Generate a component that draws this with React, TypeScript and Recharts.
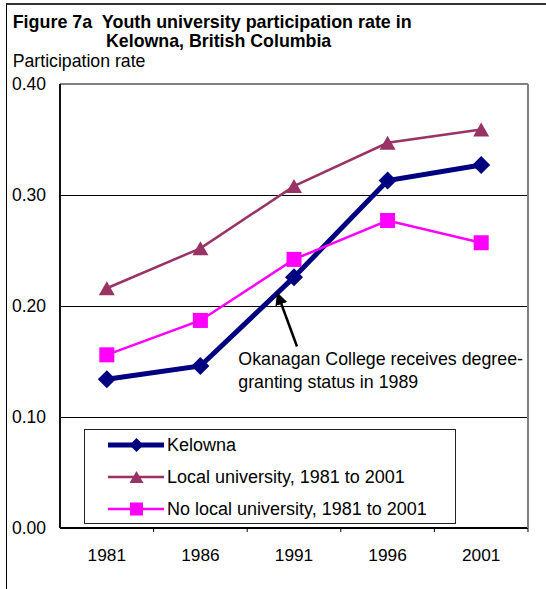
import React from 'react';
import { LineChart, Line, XAxis, YAxis, CartesianGrid, ReferenceLine, Legend } from 'recharts';

const years = ['1981', '1986', '1991', '1996', '2001'];
const kelowna = [0.134, 0.146, 0.226, 0.313, 0.327];
const localUniversity = [0.216, 0.252, 0.308, 0.347, 0.359];
const noLocalUniversity = [0.156, 0.187, 0.242, 0.277, 0.257];
const yTicks = [0, 0.1, 0.2, 0.3, 0.4];
const seriesNames = ['Kelowna', 'Local university, 1981 to 2001', 'No local university, 1981 to 2001'];
const titleLines = ['Figure 7a  Youth university participation rate in', 'Kelowna, British Columbia'];
const yAxisTitle = 'Participation rate';
const noteLines = ['Okanagan College receives degree-', 'granting status in 1989'];

const data = years.map((year, i) => ({
  year,
  kelowna: kelowna[i],
  local: localUniversity[i],
  noLocal: noLocalUniversity[i],
}));

const FONT = '"Liberation Sans", Arial, Helvetica, sans-serif';
const NAVY = '#000080';
const PLUM = '#993366';
const MAGENTA = '#FF00FF';
const HALF_BAND = 46.8;

const diamondPath = (cx: number, cy: number, r: number) =>
  `M${cx},${cy - r}L${cx + r},${cy}L${cx},${cy + r}L${cx - r},${cy}Z`;
const trianglePath = (cx: number, cy: number, w: number, h: number) =>
  `M${cx},${cy - h / 2}L${cx + w / 2},${cy + h / 2}L${cx - w / 2},${cy + h / 2}Z`;

const DiamondDot = (props: any) => {
  const { cx, cy, index } = props;
  if (cx == null || cy == null) return <g key={`kd-${index}`} />;
  return <path key={`kd-${index}`} d={diamondPath(cx, cy, 9)} fill={NAVY} />;
};
const TriangleDot = (props: any) => {
  const { cx, cy, index } = props;
  if (cx == null || cy == null) return <g key={`lt-${index}`} />;
  return <path key={`lt-${index}`} d={trianglePath(cx, cy, 16, 14)} fill={PLUM} />;
};
const SquareDot = (props: any) => {
  const { cx, cy, index } = props;
  if (cx == null || cy == null) return <g key={`ns-${index}`} />;
  return <rect key={`ns-${index}`} x={cx - 7.5} y={cy - 7.5} width={15} height={15} fill={MAGENTA} />;
};

const XTick = (props: any) => {
  const { x, y, payload, index, visibleTicksCount } = props;
  const isLast = index === (visibleTicksCount ?? years.length) - 1;
  return (
    <g>
      {index > 0 && <line x1={x - HALF_BAND} x2={x - HALF_BAND} y1={y} y2={y + 4} stroke="#000" strokeWidth={1} />}
      {isLast && <line x1={x + HALF_BAND} x2={x + HALF_BAND} y1={y} y2={y + 4} stroke="#000" strokeWidth={1} />}
      <text x={x} y={y + 27} dy="0.35em" textAnchor="middle" fontFamily={FONT} fontSize={17.3} fill="#000">
        {payload.value}
      </text>
    </g>
  );
};

const YTick = (props: any) => {
  const { x, y, payload } = props;
  return (
    <text x={x - 14} y={y} dy="0.35em" textAnchor="end" fontFamily={FONT} fontSize={17.5} fill="#000">
      {Number(payload.value).toFixed(2)}
    </text>
  );
};

const legendIcons = [
  (
    <svg width={56} height={20} key="k">
      <line x1={0} x2={56} y1={10} y2={10} stroke={NAVY} strokeWidth={5} strokeLinecap="round" />
      <path d={diamondPath(28.5, 10, 7)} fill={NAVY} />
    </svg>
  ),
  (
    <svg width={56} height={20} key="l">
      <line x1={0} x2={56} y1={10} y2={10} stroke={PLUM} strokeWidth={2.5} />
      <path d={trianglePath(28.5, 10, 14, 12)} fill={PLUM} />
    </svg>
  ),
  (
    <svg width={56} height={20} key="n">
      <line x1={0} x2={56} y1={10} y2={10} stroke={MAGENTA} strokeWidth={2.5} />
      <rect x={22} y={3.5} width={13} height={13} fill={MAGENTA} />
    </svg>
  ),
];

const renderLegend = () => (
  <div
    style={{
      width: 372,
      height: 95,
      boxSizing: 'border-box',
      border: '1px solid #222',
      background: '#fff',
      paddingTop: 0,
    }}
  >
    {seriesNames.map((name, i) => (
      <div
        key={name}
        style={{ display: 'flex', alignItems: 'center', height: 32, marginTop: i === 0 ? -1 : 0, paddingLeft: 23 }}
      >
        {legendIcons[i]}
        <span style={{ fontFamily: FONT, fontSize: 18, color: '#000', marginLeft: 3, whiteSpace: 'nowrap' }}>{name}</span>
      </div>
    ))}
  </div>
);

export default function App() {
  return (
    <div style={{ position: 'absolute', left: 0, top: 0, width: 546, height: 589, overflow: 'hidden', background: '#fff' }}>
      <div
        style={{
          position: 'absolute',
          left: 6,
          top: 3,
          width: 700,
          height: 800,
          borderLeft: '1px solid #000',
          borderTop: '2px solid #333',
        }}
      />
      <div style={{ position: 'absolute', left: 0, top: 0 }}>
        <LineChart width={546} height={589} data={data} margin={{ top: 84, right: 10, bottom: 31, left: 10 }}>
          <CartesianGrid vertical={false} stroke="#000" strokeWidth={1} shapeRendering="crispEdges" />
          <XAxis
            dataKey="year"
            height={30}
            padding={{ left: HALF_BAND, right: HALF_BAND }}
            axisLine={{ stroke: '#000', strokeWidth: 2 }}
            tickLine={false}
            tickSize={0}
            tickMargin={0}
            tick={<XTick />}
            interval={0}
          />
          <YAxis
            width={50}
            domain={[0, 0.4]}
            ticks={yTicks}
            axisLine={{ stroke: '#111', strokeWidth: 2 }}
            tickLine={false}
            tickSize={0}
            tickMargin={0}
            tick={<YTick />}
            interval={0}
          />
          <YAxis
            yAxisId="right"
            orientation="right"
            width={8}
            domain={[0, 0.4]}
            ticks={yTicks}
            axisLine={{ stroke: '#808080', strokeWidth: 2 }}
            tickLine={false}
            tick={false}
          />
          <ReferenceLine y={0.4} stroke="#808080" strokeWidth={2} />
          <Line
            dataKey="kelowna"
            name={seriesNames[0]}
            stroke={NAVY}
            strokeWidth={5}
            dot={DiamondDot}
            activeDot={false}
            isAnimationActive={false}
          />
          <Line
            dataKey="local"
            name={seriesNames[1]}
            stroke={PLUM}
            strokeWidth={2.5}
            dot={TriangleDot}
            activeDot={false}
            isAnimationActive={false}
          />
          <Line
            dataKey="noLocal"
            name={seriesNames[2]}
            stroke={MAGENTA}
            strokeWidth={2.5}
            dot={SquareDot}
            activeDot={false}
            isAnimationActive={false}
          />
          <Legend
            layout="horizontal"
            verticalAlign="middle"
            align="center"
            content={renderLegend}
            wrapperStyle={{ position: 'absolute', left: 84, top: 429, width: 372, height: 95, margin: 0, padding: 0 }}
          />
        </LineChart>
      </div>
      <svg width={546} height={589} style={{ position: 'absolute', left: 0, top: 0, pointerEvents: 'none' }}>
        <defs>
          <marker id="arrowHead" viewBox="0 0 10 10" refX="9" refY="5" markerWidth="5" markerHeight="5" orient="auto">
            <path d="M0,0L10,5L0,10Z" fill="#000" />
          </marker>
        </defs>
        <text x={12.7} y={28.3} fontFamily={FONT} fontSize={17.9} fontWeight="bold" fill="#000" style={{ whiteSpace: 'pre' }}>
          {titleLines[0]}
        </text>
        <text x={106} y={46.7} fontFamily={FONT} fontSize={17.8} fontWeight="bold" fill="#000">
          {titleLines[1]}
        </text>
        <text x={12.7} y={67.3} fontFamily={FONT} fontSize={17.7} fill="#000">
          {yAxisTitle}
        </text>
        <line x1={297} y1={346.5} x2={277.5} y2={293.5} stroke="#000" strokeWidth={2.5} markerEnd="url(#arrowHead)" />
        <text x={238.3} y={365} fontFamily={FONT} fontSize={17.8} fill="#000">
          {noteLines[0]}
        </text>
        <text x={238.3} y={388.3} fontFamily={FONT} fontSize={17.8} fill="#000">
          {noteLines[1]}
        </text>
      </svg>
    </div>
  );
}
